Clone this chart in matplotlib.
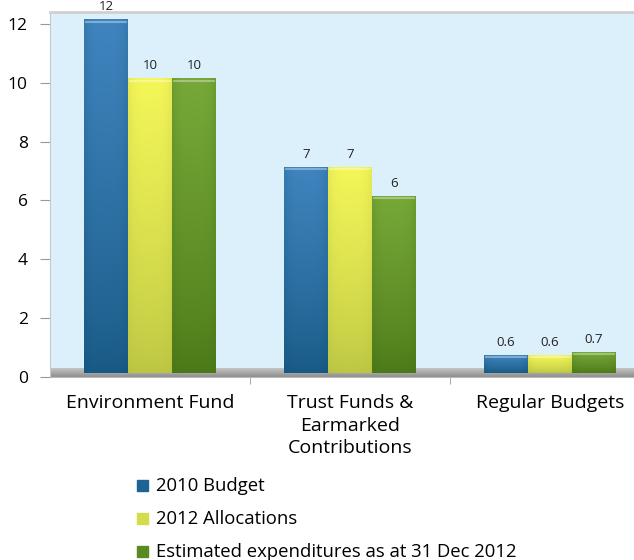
import numpy as np
import matplotlib
matplotlib.use('Agg')
import matplotlib.pyplot as plt
from matplotlib import colors

plt.rcParams['font.family'] = ['Open Sans', 'DejaVu Sans']

categories = ['Environment Fund', 'Trust Funds &\nEarmarked\nContributions', 'Regular Budgets']
series = ['2010 Budget', '2012 Allocations', 'Estimated expenditures as at 31 Dec 2012']
budget_2010 = [12, 7, 0.6]
alloc_2012 = [10, 7, 0.6]
expend_2012 = [10, 6, 0.7]
value_labels = [['12', '7', '0.6'], ['10', '7', '0.6'], ['10', '6', '0.7']]
yticks = [0, 2, 4, 6, 8, 10, 12]

# (top colour, bottom colour) for each series
shades = [('#3f84be', '#0c4c72'), ('#f4f658', '#aab73c'), ('#76a838', '#3f6a0e')]
legend_colors = ['#1d6494', '#d4dc4c', '#5a8a22']
floor_h = 0.3
bar_w = 0.22

fig = plt.figure(figsize=(6.34, 5.6), dpi=100)
ax = fig.add_axes([50 / 634, 183 / 560, 600 / 634, 365 / 560])
ax.set_facecolor('#dcf0fb')
ax.set_xlim(-0.5, 2.5)
ax.set_ylim(0, 12.4)

# grey floor strip
floor = np.linspace(0, 1, 32).reshape(-1, 1)
fcmap = colors.LinearSegmentedColormap.from_list('floor', ['#8e8e8e', '#c4c4c4'])
ax.imshow(floor, cmap=fcmap, extent=[-0.5, 2.5, 0, floor_h], origin='lower',
          aspect='auto', zorder=1)

x = np.arange(len(categories))
all_vals = [budget_2010, alloc_2012, expend_2012]
for i, vals in enumerate(all_vals):
    top, bot = shades[i]
    cmap = colors.LinearSegmentedColormap.from_list('s%d' % i, [bot, top])
    xs = x + (i - 1) * bar_w
    bars = ax.bar(xs, vals, bar_w, bottom=0.15, color='none', zorder=2)
    for b, v, lab in zip(bars, vals, value_labels[i]):
        x0 = b.get_x()
        y0 = b.get_y()
        h = b.get_height()
        # vertical ramp with some side shading
        yy = np.linspace(0, 1, 64).reshape(-1, 1)
        xx = np.linspace(-1, 1, 24).reshape(1, -1)
        img = 0.25 + 0.75 * yy ** 0.8 * np.ones_like(xx)
        img = img * (1 - 0.18 * xx ** 4)
        im = ax.imshow(img, cmap=cmap, vmin=0, vmax=1, origin='lower',
                       extent=[x0, x0 + bar_w, y0, y0 + h], aspect='auto',
                       zorder=2, interpolation='bilinear')
        im.set_clip_path(b)
        # light top edge
        ax.plot([x0 + 0.01, x0 + bar_w - 0.01], [y0 + h - 0.08] * 2,
                color='white', alpha=0.35, lw=1.5, zorder=3)
        ax.text(x0 + bar_w / 2, y0 + h + 0.2, lab, ha='center', va='bottom',
                fontsize=9.5, color='#222222', zorder=4, clip_on=False)

ax.set_yticks(yticks)
ax.set_yticklabels([str(t) for t in yticks], fontsize=12.5)
ax.set_xticks(x)
ax.set_xticklabels(categories, fontsize=14, linespacing=1.35)
ax.tick_params(axis='x', length=0, pad=12)
ax.set_xticks([0.5, 1.5], minor=True)
ax.tick_params(axis='x', which='minor', length=5, color='#999999')
ax.tick_params(axis='y', length=7, color='#999999', pad=9)
for s in ['top', 'right']:
    ax.spines[s].set_visible(False)
ax.spines['left'].set_color('#c8c8c8')
ax.spines['bottom'].set_color('#bbbbbb')
ax.plot([-0.5, 2.5], [12.4, 12.4], color='#d0d0d0', lw=2, clip_on=False, zorder=5)

# legend
for i, name in enumerate(series):
    ly = 486 + i * 33
    fig.patches.append(plt.Rectangle((137 / 634, 1 - (ly + 5) / 560), 11 / 634, 11 / 560,
                                     transform=fig.transFigure, color=legend_colors[i],
                                     figure=fig))
    fig.text(156 / 634, 1 - ly / 560, name, fontsize=13.3, va='center', ha='left')

fig.savefig('out.png', dpi=100)
